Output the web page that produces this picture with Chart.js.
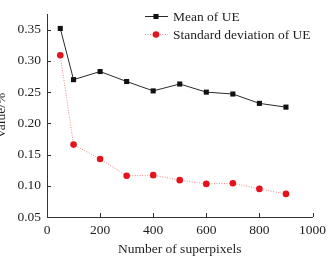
<!DOCTYPE html>
<html><head><meta charset="utf-8">
<script src="https://cdn.jsdelivr.net/npm/chart.js@4"></script>
<style>
html,body{margin:0;padding:0;background:#fff;overflow:hidden;width:331px;height:258px}
#wrap{position:absolute;left:-6px;top:0;width:337px;height:258px}
</style>
</head><body><div id="wrap"><canvas id="c" width="337" height="258"></canvas></div>
<script>
const superpixels = [50, 100, 200, 300, 400, 500, 600, 700, 800, 900];
const meanUE = [0.352, 0.270, 0.283, 0.267, 0.252, 0.263, 0.250, 0.247, 0.232, 0.226];
const stdUE = [0.309, 0.166, 0.143, 0.116, 0.117, 0.109, 0.103, 0.104, 0.095, 0.087];
const xTicks = [0, 200, 400, 600, 800, 1000];
const yTicks = [0.05, 0.10, 0.15, 0.20, 0.25, 0.30, 0.35];
const seriesNames = ["Mean of UE", "Standard deviation of UE"];
const xTitle = "Number of superpixels";
const yTitle = "Value/%";

const FONT = "'Liberation Serif', 'Times New Roman', serif";
const INK = '#1e1e1e';

const toXY = (xs, ys) => xs.map((x, i) => ({x: x, y: ys[i]}));

const innerTicks = {
  id: 'innerTicks',
  afterDraw(chart) {
    const ctx = chart.ctx, xs = chart.scales.x, ys = chart.scales.y, a = chart.chartArea;
    ctx.save();
    ctx.strokeStyle = '#333'; ctx.lineWidth = 1;
    ctx.beginPath();
    yTicks.forEach(v => { const p = Math.round(ys.getPixelForValue(v)) + 0.5; ctx.moveTo(a.left, p); ctx.lineTo(a.left + 4, p); });
    xTicks.forEach(v => { const p = Math.round(xs.getPixelForValue(v)) + 0.5; ctx.moveTo(p, a.bottom); ctx.lineTo(p, a.bottom - 4); });
    ctx.stroke();
    ctx.restore();
  }
};

const insideLegend = {
  id: 'insideLegend',
  afterDraw(chart) {
    const ctx = chart.ctx;
    ctx.save();
    ctx.font = "13.5px " + FONT;
    ctx.textBaseline = 'middle';
    ctx.textAlign = 'left';
    chart.data.datasets.forEach((ds, i) => {
      const y = 16 + i * 18;
      ctx.strokeStyle = ds.borderColor; ctx.lineWidth = ds.borderWidth;
      ctx.setLineDash(ds.borderDash || []);
      ctx.beginPath(); ctx.moveTo(151, y + 0.5); ctx.lineTo(174, y + 0.5); ctx.stroke();
      ctx.setLineDash([]);
      ctx.fillStyle = ds.pointBackgroundColor;
      if (ds.pointStyle === 'rect') {
        const s = ds.pointRadius * Math.SQRT1_2;
        ctx.fillRect(162 - s, y + 0.5 - s, 2 * s, 2 * s);
      } else {
        ctx.beginPath(); ctx.arc(162, y + 0.5, ds.pointRadius, 0, Math.PI * 2); ctx.fill();
      }
      ctx.fillStyle = INK;
      ctx.fillText(ds.label, 179, y + 1);
    });
    ctx.restore();
  }
};

new Chart(document.getElementById('c'), {
  type: 'line',
  data: {
    datasets: [
      {
        label: seriesNames[0],
        data: toXY(superpixels, meanUE),
        borderColor: '#2a2a2a', borderWidth: 1,
        pointStyle: 'rect', pointRadius: 3.6,
        pointBackgroundColor: '#111', pointBorderColor: '#111', pointBorderWidth: 0,
        tension: 0, clip: false
      },
      {
        label: seriesNames[1],
        data: toXY(superpixels, stdUE),
        borderColor: '#ec8a8a', borderWidth: 1, borderDash: [1, 1.5],
        pointStyle: 'circle', pointRadius: 3.3,
        pointBackgroundColor: '#e3141c', pointBorderColor: '#e3141c', pointBorderWidth: 0,
        tension: 0, clip: false
      }
    ]
  },
  options: {
    responsive: false,
    animation: false,
    devicePixelRatio: 1,
    layout: {padding: {top: 0, right: 17, bottom: 0, left: 0}},
    plugins: {legend: {display: false}, tooltip: {enabled: false}},
    scales: {
      x: {
        type: 'linear', min: 0, max: 1000,
        afterBuildTicks: s => { s.ticks = xTicks.map(v => ({value: v})); },
        afterFit: s => { s.height = 41; },
        grid: {display: true, drawOnChartArea: false, drawTicks: false},
        border: {display: true, color: '#333', width: 1},
        ticks: {padding: 5, maxRotation: 0, autoSkip: false, color: INK, font: {family: FONT, size: 13.5}, callback: v => String(v)},
        title: {display: true, text: xTitle, color: INK, font: {family: FONT, size: 13.5, lineHeight: 1}, padding: {top: 0, bottom: 2}}
      },
      y: {
        type: 'linear', min: 0.05, max: 0.375,
        afterBuildTicks: s => { s.ticks = yTicks.map(v => ({value: v})); },
        afterFit: s => { s.width = 53; },
        grid: {display: true, drawOnChartArea: false, drawTicks: false},
        border: {display: true, color: '#333', width: 1},
        ticks: {padding: 6, autoSkip: false, color: INK, font: {family: FONT, size: 13.5}, callback: v => v.toFixed(2)},
        title: {display: true, text: yTitle, color: INK, font: {family: FONT, size: 13.5, lineHeight: 1}, padding: {top: 1, bottom: 0}}
      }
    }
  },
  plugins: [innerTicks, insideLegend]
});
</script>
</body></html>
